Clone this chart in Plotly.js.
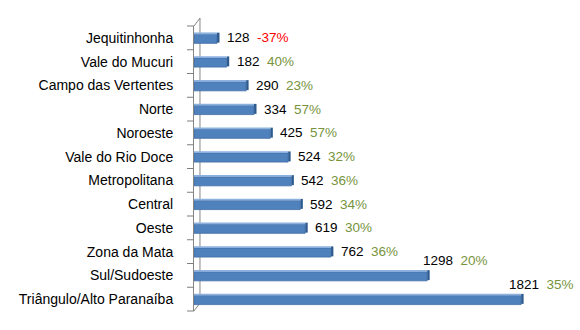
<!DOCTYPE html>
<html><head><meta charset="utf-8">
<script src="https://cdn.plot.ly/plotly-3.0.1.min.js"></script>
<style>html,body{margin:0;padding:0;background:#fff}#c{width:580px;height:330px}</style>
</head><body><div id="c"></div>
<script>
const regions = ["Jequitinhonha","Vale do Mucuri","Campo das Vertentes","Norte","Noroeste","Vale do Rio Doce","Metropolitana","Central","Oeste","Zona da Mata","Sul/Sudoeste","Triângulo/Alto Paranaíba"];
const values = [128,182,290,334,425,524,542,592,619,762,1298,1821];
const growth = ["-37%","40%","23%","57%","57%","32%","36%","34%","30%","36%","20%","35%"];

const FONT = "'Liberation Sans', Arial, sans-serif";
const n = regions.length;
const frontFace = {
  type:'bar', orientation:'h', y:regions, x:values,
  marker:{color:'#4F81BD', line:{color:'#3F6CA5', width:0.8}},
  width:0.38, offset:-0.15, hoverinfo:'skip'
};
const topFace = {
  type:'bar', orientation:'h', y:regions, x:values,
  marker:{color:'#8DB1DE', line:{width:0}},
  width:0.08, offset:-0.23, hoverinfo:'skip'
};
const sideFace = {
  type:'bar', orientation:'h', y:regions, x:values.map(()=>14), base:values,
  marker:{color:'#2E5A8E', line:{width:0}}, width:0.42, offset:-0.22, hoverinfo:'skip'
};
const maxVal = Math.max(...values);
const annotations = regions.map((r,i)=>{
  const big = values[i] > 1000;
  const pc = growth[i].startsWith('-') ? '#FF0000' : '#77933C';
  return {
    x: values[i], y: r, xref:'x', yref:'y', xanchor:'left', yanchor:'middle',
    text: values[i] + '  <span style="color:' + pc + '">' + growth[i] + '</span>',
    showarrow:false, xshift: values[i] === maxVal ? -14 : (big ? -6 : 8), yshift: big ? 15 : 0,
    font:{family:FONT, size:13.5, color:'#000'}
  };
});
const plotW = 580 - 194;
const tx = (-7/plotW).toFixed(4);
let tickPath = '';
for (let k = 0; k <= n; k++) {
  const yy = (1 - k/n).toFixed(4);
  tickPath += 'M ' + tx + ',' + yy + ' L 0,' + yy + ' ';
}
const layout = {
  width:580, height:330,
  margin:{l:194, r:0, t:26, b:19},
  paper_bgcolor:'#fff', plot_bgcolor:'rgba(0,0,0,0)',
  showlegend:false, barmode:'overlay',
  xaxis:{range:[0,2149], visible:false, showgrid:false, zeroline:false, fixedrange:true},
  yaxis:{type:'category', range:[n-0.5,-0.5], autorange:false, showline:true, linecolor:'#868686', linewidth:1,
    ticks:'', tickfont:{family:FONT, size:14, color:'#000'}, ticklabelstandoff:17, showgrid:false, zeroline:false},
  shapes:[
    {type:'path', xref:'paper', yref:'paper', path:'M 0,1 L 0.0155,1.028 L 0.0155,0.028 L 0,0', line:{color:'#868686', width:1}, layer:'below'},
    {type:'path', xref:'paper', yref:'paper', path:tickPath.trim(), line:{color:'#7F7F7F', width:1.2}, layer:'above'}
  ],
  annotations: annotations
};
Plotly.newPlot('c',[sideFace, frontFace, topFace],layout,{staticPlot:true});
</script></body></html>
